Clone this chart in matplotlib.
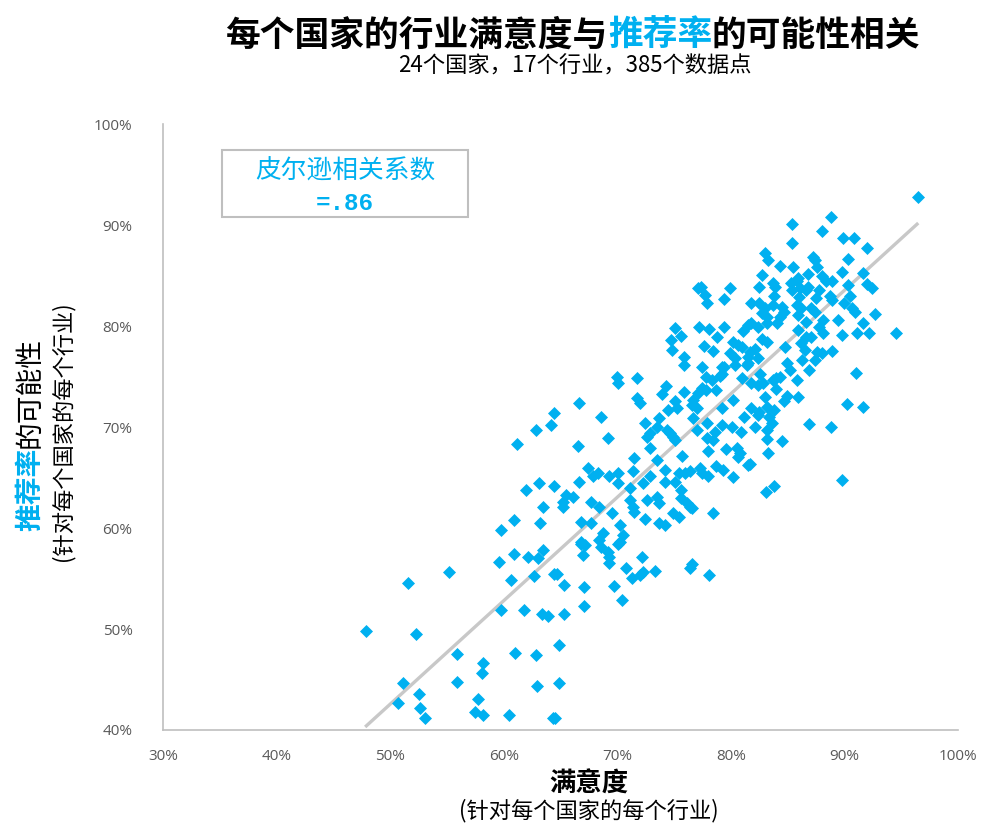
import matplotlib
matplotlib.use("Agg")
import matplotlib.pyplot as plt
from matplotlib.patches import Rectangle
import numpy as np

plt.rcParams['font.family'] = ['Noto Sans CJK SC', 'DejaVu Sans']

# satisfaction (%), likelihood to recommend (%)
satisfaction = [
    59.6, 60.9, 62.1, 63.0, 63.5, 55.2, 51.6, 60.6, 62.7, 64.4, 59.8, 61.8, 63.4, 63.9,
    47.9, 52.3, 55.9, 61.0, 62.8, 58.2, 58.1, 51.1, 55.9, 62.9, 52.5, 50.7, 57.7, 52.6,
    53.1, 57.5, 58.2, 60.5, 64.3,
    66.8, 67.2, 67.0, 68.6, 69.2, 69.3, 69.3, 70.1, 72.2, 70.8, 71.3, 72.0, 72.3, 73.3,
    76.4, 76.6, 78.1, 64.7, 65.3, 67.1, 69.7, 70.4, 67.1, 65.3, 64.9, 64.9, 64.5,
    64.4, 64.2, 62.8, 61.2, 63.1, 62.0, 64.4, 63.5, 60.9, 59.8, 63.2,
    75.9, 77.5, 79.4, 80.4, 81.4, 70.0, 70.1, 71.7, 74.3, 73.9, 75.9, 77.8, 78.3, 77.5,
    77.8, 77.1, 78.7, 79.0, 79.2, 79.2, 81.0, 66.6, 71.7, 72.0, 75.1, 74.5, 75.3, 76.7,
    77.0, 76.6, 79.2, 80.2, 81.2, 68.6, 72.4, 73.7, 76.7, 77.9, 79.2, 80.1, 73.5, 72.9,
    72.6, 74.4, 74.6, 74.9, 75.1, 77.0, 78.6, 77.9, 78.4, 80.9, 69.2, 66.5, 72.9, 78.0,
    79.6, 80.5, 80.8, 80.6, 71.5, 75.7, 73.5, 81.5, 67.4, 67.9, 68.3, 69.3, 70.1, 70.1,
    71.4, 72.9, 74.2, 75.4, 76.0, 76.4, 77.3, 77.5, 78.0, 78.7, 79.3, 80.2, 66.6, 71.1,
    72.3, 74.2, 75.1, 75.6, 65.5, 65.2, 65.2, 66.1, 67.7, 68.4, 71.1, 71.4, 71.5, 72.6,
    73.5, 73.7, 75.6, 76.1, 76.4, 76.6, 78.4, 69.5, 74.9, 75.4, 66.8, 67.7, 70.2, 70.5,
    72.4, 73.7, 74.2, 68.7, 68.4, 66.8, 70.2,
    77.4, 77.1, 77.7, 77.9, 79.9, 79.4, 75.1, 75.6, 77.2, 78.1, 78.8, 79.4, 74.7, 74.8,
    77.6, 78.4, 75.9, 81.1, 81.5, 80.2, 80.6, 81.0, 79.9, 80.4,
    96.5, 88.8, 85.4, 88.0, 89.9, 90.8, 85.4, 92.0, 83.0, 83.3, 87.2, 87.4, 90.3, 84.3,
    85.5, 87.6, 82.7, 89.8, 86.8, 85.9, 85.8, 88.0, 88.4, 88.9, 91.6, 82.5, 83.7, 83.9,
    85.3, 85.4, 86.1, 86.6, 86.8, 90.3, 92.0, 92.4, 87.8, 87.5, 83.8, 86.0, 85.8, 88.7,
    88.9, 90.5, 90.0, 90.7, 90.9, 81.8, 82.5, 83.7, 83.0, 82.7, 83.2, 84.5, 84.7, 84.3,
    86.2, 85.9, 87.1, 87.4, 92.7, 89.4, 88.1, 87.8, 88.1, 86.6, 85.9, 86.6, 84.1, 83.2,
    82.4, 81.8, 91.6, 92.2, 94.5, 91.1, 89.8, 87.1, 82.7, 83.2, 82.1, 81.7, 86.2, 86.5,
    84.8, 87.6, 88.0, 88.9, 81.5, 82.4, 84.9,
    81.5, 85.2, 86.3, 87.4, 86.9, 91.0, 82.6, 84.0, 84.3, 83.7, 85.8, 81.8, 82.4, 82.8,
    84.0, 83.0, 84.9, 84.7, 85.9, 90.2, 91.6, 81.8, 82.5, 82.4, 83.2, 83.8, 83.4, 86.9,
    88.8, 82.1, 83.6, 83.2, 83.2, 84.5, 83.3, 81.7, 89.8, 83.8, 83.1,
]
recommend = [
    56.6, 57.4, 57.1, 57.0, 57.8, 55.6, 54.6, 54.9, 55.2, 55.4, 51.9, 51.9, 51.5, 51.3,
    49.8, 49.5, 47.5, 47.6, 47.4, 46.6, 45.6, 44.7, 44.8, 44.4, 43.6, 42.7, 43.1, 42.2,
    41.2, 41.8, 41.5, 41.5, 41.2,
    58.4, 58.3, 57.3, 58.1, 57.6, 57.1, 56.5, 58.4, 57.1, 56.0, 55.1, 55.3, 55.6, 55.7,
    56.0, 56.4, 55.3, 55.4, 54.4, 54.2, 54.3, 52.9, 52.3, 51.5, 48.4, 44.7, 41.2,
    71.4, 70.2, 69.7, 68.3, 64.5, 63.8, 64.2, 62.1, 60.8, 59.8, 60.5,
    76.1, 75.9, 75.9, 76.1, 76.1, 75.0, 74.4, 74.9, 74.1, 73.3, 73.5, 75.0, 74.7, 73.9,
    73.7, 73.4, 73.7, 75.1, 75.9, 75.3, 74.9, 72.4, 72.9, 72.4, 72.6, 71.7, 71.9, 72.7,
    71.9, 72.2, 71.9, 72.7, 71.0, 71.0, 70.4, 70.9, 70.9, 70.4, 70.2, 70.0, 70.0, 69.4,
    69.0, 69.7, 69.4, 69.0, 68.7, 69.7, 69.5, 68.9, 68.7, 69.5, 68.9, 68.1, 67.9, 67.6,
    67.8, 67.9, 67.4, 67.0, 66.9, 67.1, 66.7, 66.2, 65.9, 65.2, 65.4, 65.2, 65.4, 64.5,
    65.6, 65.2, 65.7, 65.4, 65.4, 65.6, 65.9, 65.4, 65.2, 66.1, 65.7, 65.1, 64.6, 64.0,
    64.5, 64.6, 64.6, 63.8, 63.3, 62.6, 62.1, 63.1, 62.6, 62.1, 62.8, 62.1, 61.6, 62.8,
    63.1, 62.5, 63.0, 62.5, 62.1, 62.0, 61.5, 61.5, 61.5, 61.1, 60.6, 60.5, 60.3, 59.3,
    60.9, 60.5, 60.3, 59.5, 58.8, 58.6, 58.6,
    83.9, 83.8, 83.1, 82.3, 83.8, 82.7, 79.8, 79.0, 79.9, 79.7, 78.9, 79.9, 78.6, 77.6,
    78.0, 77.5, 76.9, 79.5, 80.1, 78.4, 78.1, 77.9, 77.3, 76.8,
    92.8, 90.8, 90.1, 89.4, 88.7, 88.7, 88.2, 87.7, 87.2, 86.5, 86.8, 86.5, 86.6, 85.9,
    85.8, 85.8, 85.1, 85.4, 85.2, 84.8, 84.5, 85.0, 84.5, 84.5, 85.3, 83.9, 84.3, 83.9,
    84.3, 83.6, 83.8, 83.6, 83.9, 84.1, 84.2, 83.8, 83.6, 82.8, 83.0, 82.9, 82.1, 83.0,
    82.6, 83.0, 82.3, 81.8, 81.4, 82.3, 82.3, 82.1, 81.8, 81.3, 80.9, 81.9, 81.4, 80.9,
    81.8, 81.1, 81.8, 81.4, 81.2, 80.6, 80.6, 79.9, 79.3, 80.4, 79.6, 78.9, 80.3, 80.3,
    79.9, 80.3, 80.3, 79.3, 79.3, 79.3, 79.1, 78.9, 78.7, 78.4, 77.7, 77.4, 78.3, 77.6,
    77.9, 77.4, 77.3, 77.5, 76.9, 76.8, 76.3,
    76.3, 75.6, 76.6, 76.6, 75.6, 75.4, 75.3, 74.9, 75.0, 74.7, 74.7, 74.4, 74.2, 74.4,
    73.8, 73.0, 73.1, 72.6, 73.0, 72.3, 72.0, 71.9, 71.5, 71.2, 72.0, 71.7, 71.0, 70.3,
    70.0, 70.0, 70.4, 69.7, 68.8, 68.6, 67.4, 66.3, 64.8, 64.2, 63.6,
]

# linear trendline endpoints
trend_x = [47.8, 96.5]
trend_y = [40.3, 90.2]

x_ticks = [30, 40, 50, 60, 70, 80, 90, 100]
y_ticks = [40, 50, 60, 70, 80, 90, 100]

CYAN = '#00B0F0'
GRAY_TXT = '#595959'

fig = plt.figure(figsize=(10, 8.3), dpi=100)
ax = fig.add_axes([0.163, 0.1205, 0.795, 0.730])

ax.scatter(satisfaction, recommend, marker='D', s=44, color=CYAN, linewidths=0, zorder=3)
ax.plot(trend_x, trend_y, color='#C8C8C8', lw=2.4, zorder=2, solid_capstyle='butt')

ax.set_xlim(30, 100)
ax.set_ylim(40, 100)
ax.set_xticks(x_ticks)
ax.set_yticks(y_ticks)
ax.set_xticklabels([f'{v}%' for v in x_ticks])
ax.set_yticklabels([f'{v}%' for v in y_ticks])
for lab in ax.get_xticklabels() + ax.get_yticklabels():
    lab.set_fontfamily(['Open Sans', 'DejaVu Sans'])
    lab.set_fontsize(11)
    lab.set_color(GRAY_TXT)
ax.tick_params(axis='y', length=0, pad=22)
ax.tick_params(axis='x', length=0, pad=14)
for s in ['top', 'right']:
    ax.spines[s].set_visible(False)
for s in ['left', 'bottom']:
    ax.spines[s].set_color('#BFBFBF')
    ax.spines[s].set_linewidth(1.2)

renderer = fig.canvas.get_renderer()
W, H = fig.bbox.width, fig.bbox.height


def multi_h(parts, xc, y, size):
    ts = []
    for s, c, w in parts:
        ts.append(fig.text(0, y, s, color=c, fontweight=w, fontsize=size,
                           ha='left', va='baseline'))
    ws = [t.get_window_extent(renderer).width for t in ts]
    x = xc * W - sum(ws) / 2
    for t, w in zip(ts, ws):
        t.set_x(x / W)
        x += w


def multi_v(parts, x, yc, size):
    ts = []
    for s, c, w in parts:
        ts.append(fig.text(x, 0, s, color=c, fontweight=w, fontsize=size,
                           ha='center', va='center', rotation=90))
    hs = [t.get_window_extent(renderer).height for t in ts]
    y = yc * H - sum(hs) / 2
    for t, h in zip(ts, hs):
        t.set_y((y + h / 2) / H)
        y += h


multi_h([('每个国家的行业满意度与', 'black', 'bold'),
         ('推荐率', CYAN, 'bold'),
         ('的可能性相关', 'black', 'bold')], 0.573, 0.945, 25)
fig.text(0.575, 0.920, '24个国家，17个行业，385个数据点', ha='center', va='center',
         fontsize=16, color='black')

# correlation box
fig.patches.append(Rectangle((0.222, 0.7386), 0.246, 0.0807, transform=fig.transFigure,
                             fill=False, edgecolor='#BFBFBF', lw=1.5))
fig.text(0.345, 0.7928, '皮尔逊相关系数', ha='center', va='center', fontsize=18.5, color=CYAN)
fig.text(0.345, 0.7554, '=.86', ha='center', va='center', fontsize=17.5, color=CYAN,
         fontweight='bold', family=['Liberation Mono', 'DejaVu Sans Mono'])

# x label
fig.text(0.589, 0.0555, '满意度', ha='center', va='center', fontsize=19,
         fontweight='bold', color='black')
fig.text(0.589, 0.0235, '(针对每个国家的每个行业)', ha='center', va='center',
         fontsize=16, color='black')

# y label
multi_v([('推荐率', CYAN, 'bold'), ('的可能性', 'black', 'normal')], 0.030, 0.477, 20)
fig.text(0.063, 0.48, '(针对每个国家的每个行业)', ha='center', va='center',
         fontsize=16, color='black', rotation=90)

fig.savefig('out.png', dpi=100)
